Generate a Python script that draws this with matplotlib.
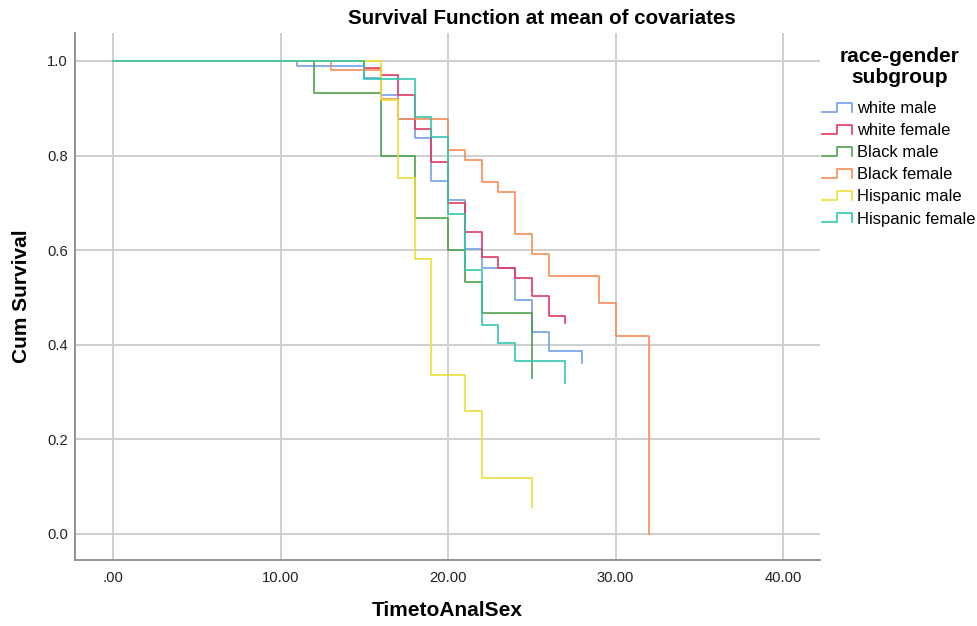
import numpy as np
import matplotlib
matplotlib.use("Agg")
import matplotlib.pyplot as plt
from matplotlib.legend_handler import HandlerBase
from matplotlib.lines import Line2D

plt.rcParams['font.family'] = ['Liberation Sans', 'DejaVu Sans']

# ---- data ----
groups = ["white male", "white female", "Black male", "Black female",
          "Hispanic male", "Hispanic female"]

t_white_male = [0, 11, 15, 16, 17, 18, 19, 20, 21, 22, 24, 25, 26, 28]
s_white_male = [1.0, 0.990, 0.963, 0.927, 0.877, 0.837, 0.747, 0.706, 0.602, 0.562, 0.495, 0.428, 0.387, 0.362]

t_white_female = [0, 15, 16, 17, 18, 19, 20, 21, 22, 23, 24, 25, 26, 27]
s_white_female = [1.0, 0.984, 0.970, 0.927, 0.856, 0.787, 0.699, 0.639, 0.586, 0.563, 0.541, 0.502, 0.460, 0.445]

t_black_male = [0, 12, 16, 18, 20, 21, 22, 25]
s_black_male = [1.0, 0.933, 0.800, 0.667, 0.600, 0.533, 0.467, 0.329]

t_black_female = [0, 13, 16, 17, 20, 21, 22, 23, 24, 25, 26, 29, 30, 32]
s_black_female = [1.0, 0.981, 0.919, 0.877, 0.812, 0.790, 0.745, 0.722, 0.635, 0.592, 0.546, 0.488, 0.419, 0.0]

t_hisp_male = [0, 16, 17, 18, 19, 21, 22, 25]
s_hisp_male = [1.0, 0.918, 0.752, 0.581, 0.337, 0.260, 0.118, 0.056]

t_hisp_female = [0, 15, 18, 19, 20, 21, 22, 23, 24, 27]
s_hisp_female = [1.0, 0.962, 0.881, 0.840, 0.677, 0.558, 0.442, 0.404, 0.366, 0.319]

series_t = [t_white_male, t_white_female, t_black_male, t_black_female, t_hisp_male, t_hisp_female]
series_s = [s_white_male, s_white_female, s_black_male, s_black_female, s_hisp_male, s_hisp_female]

colors = ['#6F9EE6', '#E2345C', '#4B9E4B', '#F98A55', '#EEDD33', '#2EC4AE']

x_ticks = [0, 10, 20, 30, 40]
x_ticklabels = [".00", "10.00", "20.00", "30.00", "40.00"]
y_ticks = [0.0, 0.2, 0.4, 0.6, 0.8, 1.0]
y_ticklabels = ["0.0", "0.2", "0.4", "0.6", "0.8", "1.0"]

# ---- figure ----
W, H = 978, 626
fig = plt.figure(figsize=(W / 100, H / 100), dpi=100)
ax_l, ax_r, ax_t, ax_b = 75, 820, 33, 560
ax = fig.add_axes([ax_l / W, 1 - ax_b / H, (ax_r - ax_l) / W, (ax_b - ax_t) / H])

ax.set_xlim(-2.27, 42.2)
ax.set_ylim(-0.055, 1.059)

ax.set_xticks(x_ticks)
ax.set_xticklabels(x_ticklabels)
ax.set_yticks(y_ticks)
ax.set_yticklabels(y_ticklabels)
ax.tick_params(length=0, labelsize=10.6, colors='#222222')
ax.tick_params(axis='x', pad=8)
ax.tick_params(axis='y', pad=5)

ax.grid(True, color='#CFCFCF', lw=1.4)
ax.set_axisbelow(True)
for side in ['top', 'right']:
    ax.spines[side].set_visible(False)
for side in ['left', 'bottom']:
    ax.spines[side].set_color('#8A8A8A')
    ax.spines[side].set_linewidth(1.3)

handles = []
for t, s, c, g in zip(series_t, series_s, colors, groups):
    h, = ax.step(t, s, where='post', color=c, lw=1.3, alpha=0.9, label=g)
    handles.append(h)

ax.set_xlabel("TimetoAnalSex", fontsize=15, fontweight='bold')
ax.set_ylabel("Cum Survival", fontsize=15, fontweight='bold')
ax.xaxis.set_label_coords(0.5, (ax_b - 601) / (ax_b - ax_t))
ax.yaxis.set_label_coords((31 - ax_l) / (ax_r - ax_l), 0.5)

fig.text(542 / W, 1 - 18 / H, "Survival Function at mean of covariates",
         ha='center', va='center', fontsize=14.8, fontweight='bold')

# legend title
fig.text(900 / W, 1 - 67 / H, "race-gender\nsubgroup", ha='center', va='center',
         fontsize=15, fontweight='bold', linespacing=1.15)


class StepHandler(HandlerBase):
    def create_artists(self, legend, orig_handle, xdescent, ydescent,
                       width, height, fontsize, trans):
        xs = np.array([0, 0.5, 0.5, 1.0, 1.0]) * width - xdescent
        ys = np.array([0.1, 0.1, 0.9, 0.9, 0.1]) * height - ydescent
        ln = Line2D(xs, ys, color=orig_handle.get_color(),
                    lw=orig_handle.get_linewidth(), alpha=0.9)
        ln.set_transform(trans)
        return [ln]


leg = fig.legend(handles=handles, labels=groups,
                 handler_map={Line2D: StepHandler()},
                 loc='upper left', bbox_to_anchor=(822 / W, 1 - 101 / H),
                 frameon=False, fontsize=11.9,
                 handlelength=1.8, handletextpad=0.3, labelspacing=0.43,
                 borderpad=0, borderaxespad=0)

fig.savefig("out.png", dpi=100)
